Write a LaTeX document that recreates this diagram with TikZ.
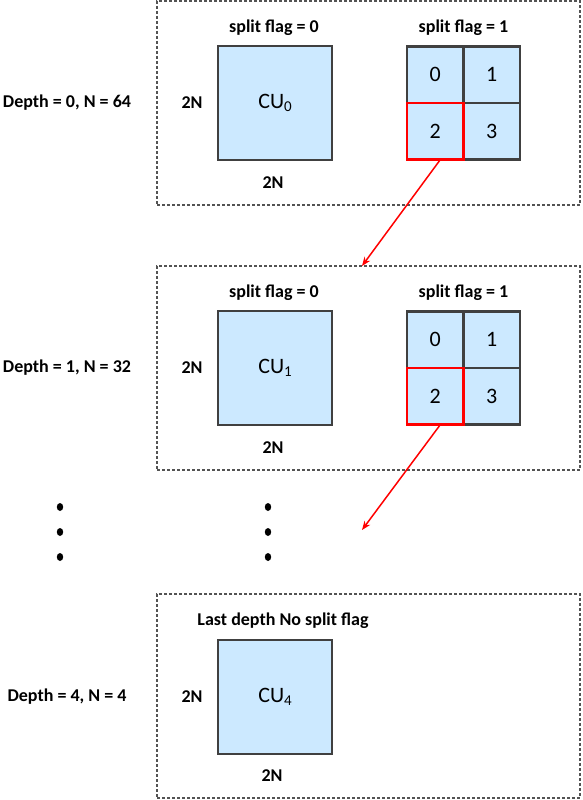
\documentclass[tikz,border=0pt]{standalone}
\usepackage{fontspec}
\setmainfont{Carlito}
\usetikzlibrary{arrows.meta}
\definecolor{cublue}{RGB}{204,233,255}
\definecolor{cuedge}{RGB}{64,64,64}
\tikzset{
  frame/.style={draw=cuedge!90, line width=1.3pt, dash pattern=on 3pt off 2pt, minimum width=423pt, minimum height=204pt},
  cu/.style={draw=cuedge, line width=2.2pt, fill=cublue, minimum size=114pt, font=\fontsize{22}{26}\selectfont},
  cell/.style={draw=cuedge, line width=2.2pt, fill=cublue, minimum size=56.5pt, font=\fontsize{22}{26}\selectfont},
  lbl/.style={font=\fontsize{18}{21}\selectfont\bfseries},
  redline/.style={red, line width=1.5pt}
}
\newcommand{\cusub}[1]{CU\raisebox{-3pt}{\fontsize{15}{17}\selectfont #1}}
\begin{document}
\begin{tikzpicture}[x=1pt,y=-1pt]
\useasboundingbox (0,0) rectangle (582,800);

% two levels that can still be split
\foreach \d/\y/\n in {0/103/64,1/368/32}{
\node[frame] (f\d) at (368.5,\y) {};
\node[lbl] (depth\d) at (67,\y) {Depth = \d, N = \n};
\node[lbl] (nosplit\d) at (274,\y-75) {split flag = 0};
\node[lbl] (split\d) at (463.5,\y-75) {split flag = 1};
\node[cu] (cu\d) at (275,\y) {\cusub{\d}};
\node[lbl] (side\d) at (192,\y) {2N};
\node[lbl] (bottom\d) at (273,\y+80) {2N};
\node[cell] (q\d0) at (435.25,\y-28.25) {0};
\node[cell] (q\d1) at (491.75,\y-28.25) {1};
\node[cell] (q\d3) at (491.75,\y+28.25) {3};
\node[cell, draw=red] (q\d2) at (435.25,\y+28.25) {2};
}

% where the arrows land
\coordinate (in1) at (362,266);
\coordinate (in2) at (362,530);
\draw[redline, -{Stealth[length=9pt,width=7pt]}] (q02.south east) ++(-25,0) coordinate (out0) -- (in1);
\draw[redline, -{Stealth[length=9pt,width=7pt]}] (q12.south east) ++(-25,0) coordinate (out1) -- (in2);

% dots
\foreach \x in {60,268}{
\foreach \y in {507,532,557}{
\fill (\x,\y) ellipse (3.2pt and 4pt);
}
}

% last depth
\node[frame] (f2) at (368.5,696) {};
\node[lbl] (depth2) at (67,697) {Depth = 4, N = 4};
\node[lbl] (last) at (283,621) {Last depth No split flag};
\node[cu] (cu2) at (275,697) {\cusub{4}};
\node[lbl] (side2) at (192,697) {2N};
\node[lbl] (bottom2) at (272,776) {2N};
\end{tikzpicture}
\end{document}
